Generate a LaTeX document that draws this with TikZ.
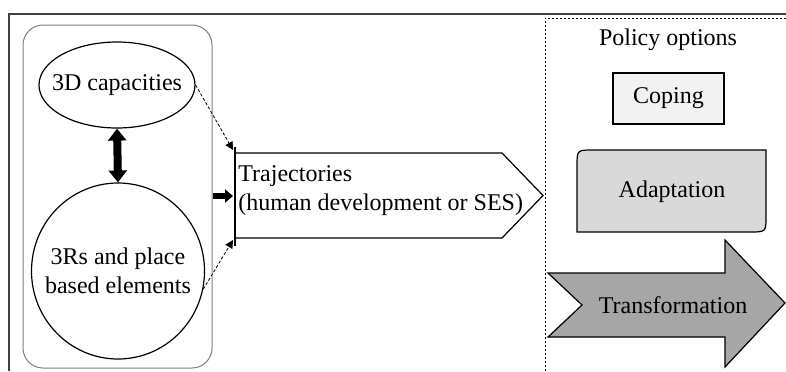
\documentclass[tikz,border=0pt]{standalone}
\usepackage{fontspec}
\setmainfont{Liberation Serif}
\usetikzlibrary{shapes.geometric,arrows.meta}
\definecolor{framec}{HTML}{404040}
\definecolor{grpc}{HTML}{7F7F7F}
\definecolor{copc}{HTML}{F2F2F2}
\definecolor{adac}{HTML}{D9D9D9}
\definecolor{trac}{HTML}{A6A6A6}
\begin{document}
\begin{tikzpicture}[x=0.5pt,y=-0.5pt,
  txt/.style={font=\fontsize{12}{14.5}\selectfont},
  ell/.style={ellipse,draw,line width=0.6pt,inner sep=0pt},
  bigarrow/.style={line width=4pt,{Triangle[length=6pt,width=9pt]}-{Triangle[length=6pt,width=9pt]}},
  midarrow/.style={line width=3pt,-{Triangle[length=4pt,width=6.5pt]}},
  dasharrow/.style={dash pattern=on 1.5pt off 1pt,line width=0.4pt,-{Triangle[length=4pt,width=4pt]}},
  shapeline/.style={draw=black,line width=0.6pt}]
\useasboundingbox (0,0) rectangle (786,371);
% outer frame
\draw[framec,line width=1pt] (786,14) -- (9,14) -- (9,371);
% policy dashed region
\draw[dash pattern=on 1pt off 1pt,line width=0.4pt] (545,371) -- (545,18) -- (786,18);
% left group
\node[draw=grpc,line width=0.5pt,rounded corners=10pt,minimum width=94.5pt,minimum height=171.5pt,inner sep=0pt] (grp) at (117.5,196.5) {};
\node[ell,minimum width=78pt,minimum height=43pt] (cap) at (117,85) {};
\node[txt] (capl) at (cap.center) {3D capacities};
\node[ell,minimum width=86.5pt,minimum height=88pt] (res) at (118,271) {};
\node[txt,align=center] (resl) at (res.center) {3Rs and place\\based elements};
\draw[bigarrow] (cap.south) -- (res.north);
% trajectories
\coordinate (tt) at (233,150);
\coordinate (tb) at (233,240);
\coordinate (tin) at (233,196);
\draw[shapeline,fill=white] (235,153) -- (502,153) -- (543,195.5) -- (502,238) -- (235,238) -- cycle;
\draw[line width=0.8pt] (235,147) -- (235,246);
\node[txt,anchor=west,align=left,inner sep=0pt] (traj) at (238,191) {Trajectories\\(human development or SES)};
\draw[midarrow] (grp.east |- tin) -- (tin);
\draw[dasharrow] (cap.east) -- (tt);
\draw[dasharrow] (res.-12) -- (tb);
% policy options
\node[txt] (pol) at (668,40) {Policy options};
\node[txt,draw,line width=0.6pt,fill=copc,minimum width=55.5pt,minimum height=25.5pt] (cop) at (668.5,98.5) {Coping};
\draw[shapeline,fill=adac] (577,232) -- (577,166) .. controls (577,150) .. (593,150) -- (766,150) -- (766,216) .. controls (766,232) .. (750,232) -- cycle;
\node[txt] (ada) at (672,192) {Adaptation};
\draw[shapeline,fill=trac] (548,273) -- (725,273) -- (725,240) -- (785,303) -- (725,367) -- (725,337) -- (548,337) -- (582,305) -- cycle;
\node[txt] (tra) at (673,305) {Transformation};
\end{tikzpicture}
\end{document}
